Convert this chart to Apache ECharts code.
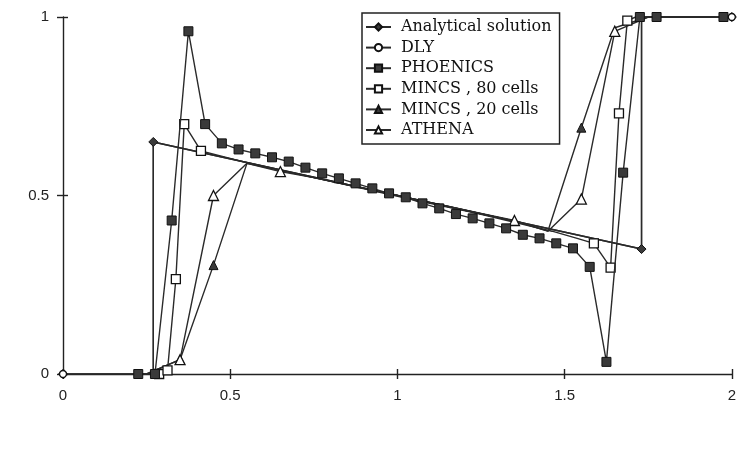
<!DOCTYPE html>
<html>
<head>
<meta charset="utf-8">
<script src="https://cdn.jsdelivr.net/npm/echarts@6/dist/echarts.min.js"></script>
<style>
  html, body { margin: 0; padding: 0; background: #fff; }
  #chart { width: 739px; height: 453px; }
</style>
</head>
<body>
<div id="chart"></div>
<script>
// values; marks: 1 = symbol drawn, 0 = path only
const seriesNames = ['Analytical solution', 'DLY', 'PHOENICS', 'MINCS , 80 cells', 'MINCS , 20 cells', 'ATHENA'];

const analyticX = [0, 0.27, 0.27, 1.73, 1.73, 2.0];
const analyticY = [0, 0, 0.65, 0.35, 1.0, 1.0];
const analyticMarks = [1, 0, 1, 1, 0, 1];

const dlyX = [0, 0.27, 0.27, 1.73, 1.73, 2.0];
const dlyY = [0, 0, 0.65, 0.35, 1.0, 1.0];
const dlyMarks = [1, 0, 0, 0, 0, 1];

const phoenicsX = [0.225, 0.275, 0.325, 0.375, 0.425, 0.475, 0.525, 0.575, 0.625, 0.675,
  0.725, 0.775, 0.825, 0.875, 0.925, 0.975, 1.025, 1.075, 1.125, 1.175,
  1.225, 1.275, 1.325, 1.375, 1.425, 1.475, 1.525, 1.575, 1.625, 1.675,
  1.725, 1.775, 1.975];
const phoenicsY = [0, 0, 0.43, 0.96, 0.70, 0.646, 0.629, 0.618, 0.607, 0.595,
  0.578, 0.562, 0.548, 0.534, 0.52, 0.506, 0.495, 0.478, 0.464, 0.448,
  0.436, 0.422, 0.408, 0.39, 0.38, 0.366, 0.352, 0.30, 0.034, 0.564,
  1.0, 1.0, 1.0];
const phoenicsMarks = phoenicsX.map(() => 1);

const mincs80X = [0.2875, 0.3125, 0.3375, 0.3625, 0.4125, 0.5375, 0.7375, 1.0375, 1.2375,
  1.4625, 1.5375, 1.5875, 1.6375, 1.6625, 1.6875, 1.7125, 1.9875];
const mincs80Y = [0, 0.01, 0.266, 0.70, 0.625, 0.595, 0.553, 0.49, 0.45,
  0.40, 0.38, 0.366, 0.298, 0.73, 0.99, 1.0, 1.0];
const mincs80Marks = [1, 1, 1, 1, 1, 0, 0, 0, 0, 0, 0, 1, 1, 1, 1, 0, 0];

const mincs20X = [0.25, 0.35, 0.45, 0.55, 0.75, 0.95, 1.15, 1.35, 1.45, 1.55, 1.65, 1.75, 1.95];
const mincs20Y = [0, 0.04, 0.305, 0.59, 0.55, 0.51, 0.47, 0.428, 0.40, 0.69, 0.97, 1.0, 1.0];
const mincs20Marks = [0, 1, 1, 0, 0, 0, 0, 0, 0, 1, 0, 0, 0];

const athenaX = [0.25, 0.35, 0.45, 0.55, 0.65, 0.75, 0.85, 0.95, 1.05, 1.15, 1.25, 1.35, 1.45, 1.55, 1.65, 1.75, 1.95];
const athenaY = [0, 0.04, 0.50, 0.59, 0.567, 0.55, 0.53, 0.51, 0.49, 0.47, 0.45, 0.43, 0.40, 0.49, 0.96, 1.0, 1.0];
const athenaMarks = [0, 1, 1, 0, 1, 0, 0, 0, 0, 0, 0, 1, 0, 1, 1, 0, 0];

function toData(xs, ys, marks) {
  return xs.map((x, i) => marks[i] ? [x, ys[i]] : { value: [x, ys[i]], symbol: 'none' });
}

const ink = '#222';
const lineCol = '#2a2a2a';
const filled = { color: '#3a3a3a', borderColor: '#111', borderWidth: 1 };
const hollow = { color: '#fff', borderColor: '#111', borderWidth: 1.3 };
const tickFont = 'Liberation Sans';

function makeSeries(name, xs, ys, marks, symbol, size, style, z) {
  return {
    name: name,
    type: 'line',
    data: toData(xs, ys, marks),
    symbol: symbol,
    symbolSize: size,
    showSymbol: true,
    lineStyle: { color: lineCol, width: 1.4 },
    itemStyle: style,
    z: z
  };
}

const chart = echarts.init(document.getElementById('chart'), null, { renderer: 'canvas' });

const baseX = { type: 'value', min: 0, max: 2, interval: 0.5, splitLine: { show: false } };
const baseY = { type: 'value', min: 0, max: 1, interval: 0.5, splitLine: { show: false } };

chart.setOption({
  animation: false,
  backgroundColor: '#fff',
  grid: { left: 63, right: 2, top: 17, bottom: 79 },
  legend: {
    orient: 'vertical',
    left: 362,
    top: 13,
    padding: [6, 8, 6, 3],
    itemWidth: 25,
    itemHeight: 9,
    itemGap: 4.6,
    borderColor: ink,
    borderWidth: 1.5,
    backgroundColor: '#fff',
    data: seriesNames,
    textStyle: { fontFamily: 'DejaVu Serif', fontSize: 16, lineHeight: 16, color: '#111', padding: [0, 0, 0, 5] }
  },
  xAxis: [
    Object.assign({}, baseX, {
      position: 'bottom',
      axisLine: { onZero: false, lineStyle: { color: ink, width: 1.4 } },
      axisTick: { show: true, length: 5, lineStyle: { color: ink, width: 1.4 } },
      axisLabel: { color: '#222', fontFamily: tickFont, fontSize: 15, margin: 14 }
    }),
    Object.assign({}, baseX, {
      position: 'bottom',
      axisLine: { show: false },
      axisTick: { show: true, inside: true, length: 5, lineStyle: { color: ink, width: 1.4 } },
      axisLabel: { show: false }
    })
  ],
  yAxis: [
    Object.assign({}, baseY, {
      position: 'left',
      axisLine: { show: true, onZero: false, lineStyle: { color: ink, width: 1.4 } },
      axisTick: { show: true, length: 6, lineStyle: { color: ink, width: 1.4 } },
      axisLabel: { color: '#222', fontFamily: tickFont, fontSize: 15, margin: 14 }
    }),
    Object.assign({}, baseY, {
      position: 'left',
      axisLine: { show: false },
      axisTick: { show: true, inside: true, length: 5, lineStyle: { color: ink, width: 1.4 } },
      axisLabel: { show: false }
    })
  ],
  series: [
    makeSeries(seriesNames[0], analyticX, analyticY, analyticMarks, 'diamond', 9, filled, 2),
    makeSeries(seriesNames[1], dlyX, dlyY, dlyMarks, 'circle', 7, hollow, 2),
    makeSeries(seriesNames[2], phoenicsX, phoenicsY, phoenicsMarks, 'rect', 9, filled, 4),
    makeSeries(seriesNames[3], mincs80X, mincs80Y, mincs80Marks, 'rect', 9, hollow, 3),
    makeSeries(seriesNames[4], mincs20X, mincs20Y, mincs20Marks, 'triangle', 9, filled, 3),
    makeSeries(seriesNames[5], athenaX, athenaY, athenaMarks, 'triangle', 10, hollow, 3)
  ]
});
</script>
</body>
</html>
